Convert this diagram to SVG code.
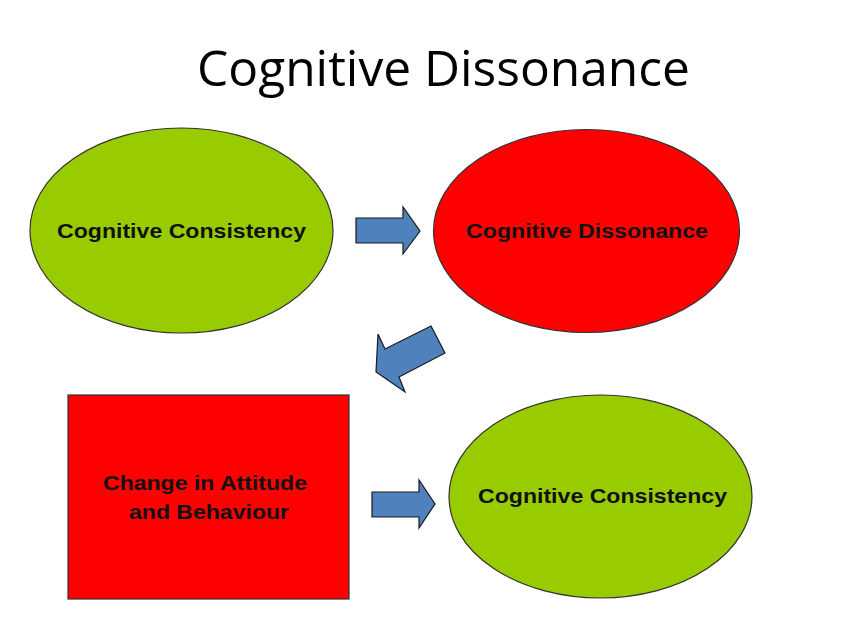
<svg xmlns="http://www.w3.org/2000/svg" width="850" height="642" viewBox="0 0 850 642">
<style>
.title{font-family:"Open Sans","Liberation Sans",sans-serif;font-size:50px;fill:#000}
.lbl{font-family:"Liberation Sans",Arial,sans-serif;font-weight:bold;font-size:21px;fill:#111}
.green{fill:#99CC00;stroke:#333;stroke-width:1.2}
.red{fill:#FF0000;stroke:#333;stroke-width:1.2}
.arrow{fill:#4F81BD;stroke:#1a1a1a;stroke-width:1.2;stroke-linejoin:miter}
</style>
<rect width="850" height="642" fill="#fff"/>
<text class="title" x="197" y="86" textLength="493" lengthAdjust="spacingAndGlyphs">Cognitive Dissonance</text>
<g id="node-consistency-1">
<ellipse class="green" cx="181.5" cy="230.5" rx="151.5" ry="102.5"/>
<text class="lbl" x="57" y="238" textLength="249" lengthAdjust="spacingAndGlyphs">Cognitive Consistency</text>
</g>
<g id="node-dissonance">
<ellipse class="red" cx="586.5" cy="231" rx="153" ry="101.5"/>
<text class="lbl" x="466" y="238" textLength="242" lengthAdjust="spacingAndGlyphs">Cognitive Dissonance</text>
</g>
<g id="node-change">
<rect class="red" x="68" y="395" width="281" height="204"/>
<text class="lbl" x="103" y="490" textLength="204" lengthAdjust="spacingAndGlyphs">Change in Attitude</text>
<text class="lbl" x="129" y="519" textLength="160" lengthAdjust="spacingAndGlyphs">and Behaviour</text>
</g>
<g id="node-consistency-2">
<ellipse class="green" cx="600.5" cy="496.5" rx="151.5" ry="101.5"/>
<text class="lbl" x="478" y="503" textLength="249" lengthAdjust="spacingAndGlyphs">Cognitive Consistency</text>
</g>
<g id="connectors">
<polygon class="arrow" points="356,218 403,218 403,207 420,231 403,254 403,243 356,243"/>
<polygon class="arrow" points="431,326 445,353 399,377 405,392 376,372 378,334 385,349"/>
<polygon class="arrow" points="372,492 419,492 419,480 435,504 419,528 419,517 372,517"/>
</g>
</svg>
